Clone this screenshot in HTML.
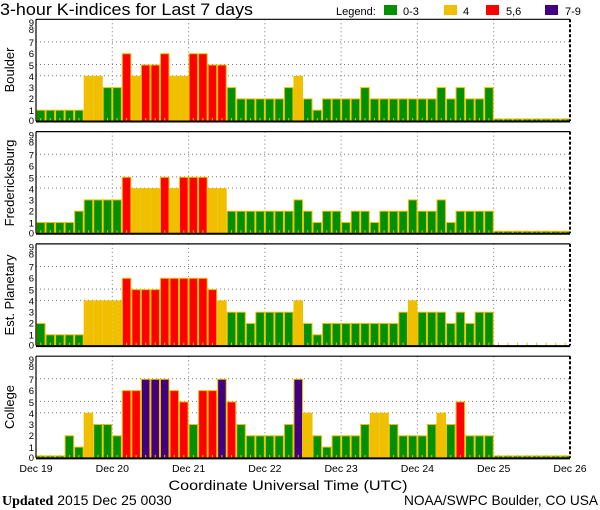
<!DOCTYPE html>
<html><head><meta charset="utf-8"><style>
html,body{margin:0;padding:0;background:#fff;width:600px;height:510px;overflow:hidden}
svg{display:block}
text{font-family:"Liberation Sans",sans-serif;fill:#000}
</style></head><body>
<svg id="s" width="600" height="510" viewBox="0 0 600 510" xmlns="http://www.w3.org/2000/svg">
<text x="0" y="15" font-size="16.5" textLength="253" lengthAdjust="spacingAndGlyphs">3-hour K-indices for Last 7 days</text>
<text x="336" y="15" font-size="11">Legend:</text>
<rect x="384" y="5" width="13" height="10" fill="#009000"/><text x="403" y="15" font-size="11">0-3</text>
<rect x="444" y="5" width="13" height="10" fill="#f0c000"/><text x="463" y="15" font-size="11">4</text>
<rect x="486" y="5" width="13" height="10" fill="#ff0000"/><text x="506" y="15" font-size="11">5,6</text>
<rect x="545" y="5" width="13" height="10" fill="#400080"/><text x="565" y="15" font-size="11">7-9</text>

<g font-size="13">
<text transform="translate(14,70) rotate(-90)" text-anchor="middle">Boulder</text>
<text transform="translate(14,183) rotate(-90)" text-anchor="middle">Fredericksburg</text>
<text transform="translate(14,295) rotate(-90)" text-anchor="middle">Est. Planetary</text>
<text transform="translate(14,407) rotate(-90)" text-anchor="middle">College</text>
</g>

<g font-size="9.5" text-anchor="end">
<g transform="translate(0,0)"><text x="34" y="124">0</text><text x="34" y="114">1</text><text x="34" y="102">2</text><text x="34" y="91">3</text><text x="34" y="80">4</text><text x="34" y="69">5</text><text x="34" y="57">6</text><text x="34" y="46">7</text><text x="34" y="33">8</text><text x="34" y="26">9</text></g>
<g transform="translate(0,112.3)"><text x="34" y="124">0</text><text x="34" y="114">1</text><text x="34" y="102">2</text><text x="34" y="91">3</text><text x="34" y="80">4</text><text x="34" y="69">5</text><text x="34" y="57">6</text><text x="34" y="46">7</text><text x="34" y="33">8</text><text x="34" y="26">9</text></g>
<g transform="translate(0,224.6)"><text x="34" y="124">0</text><text x="34" y="114">1</text><text x="34" y="102">2</text><text x="34" y="91">3</text><text x="34" y="80">4</text><text x="34" y="69">5</text><text x="34" y="57">6</text><text x="34" y="46">7</text><text x="34" y="33">8</text><text x="34" y="26">9</text></g>
<g transform="translate(0,336.9)"><text x="34" y="124">0</text><text x="34" y="114">1</text><text x="34" y="102">2</text><text x="34" y="91">3</text><text x="34" y="80">4</text><text x="34" y="69">5</text><text x="34" y="57">6</text><text x="34" y="46">7</text><text x="34" y="33">8</text><text x="34" y="26">9</text></g>
</g>

<g font-size="10.5" text-anchor="middle">
<text x="36" y="472">Dec 19</text><text x="112.3" y="472">Dec 20</text><text x="188.6" y="472">Dec 21</text><text x="264.9" y="472">Dec 22</text><text x="341.1" y="472">Dec 23</text><text x="417.4" y="472">Dec 24</text><text x="493.7" y="472">Dec 25</text><text x="570" y="472">Dec 26</text>
</g>
<text x="288" y="490" font-size="14" text-anchor="middle" textLength="239" lengthAdjust="spacingAndGlyphs">Coordinate Universal Time (UTC)</text>
<text x="2" y="505" font-size="14"><tspan font-family="Liberation Serif,serif" font-weight="bold">Updated</tspan> 2015 Dec 25 0030</text>
<text x="598" y="505" font-size="14" text-anchor="end" textLength="194" lengthAdjust="spacingAndGlyphs">NOAA/SWPC Boulder, CO USA</text>
<g id="plots"></g>
</svg>
<script>
var data=[
"11111443364556446655322222342122223222222232322300000000",
"11112333354445455544222222232122122122232231222200000000",
"2111144446555666665433233334"+"21222222223433323233"+"xxxxxxxx",
"0002143326677765366753222237"+"42122234432223435222"+"00000000"
];
var sliver=[true,true,false,true];
var tops=[19.3,131.6,243.9,356.2],H=101.7,L=36,R=570,W=(R-L)/56,U=H/9;
var g=document.getElementById('plots'),h='';
function col(v){return v<=3?'#009000':v==4?'#f0c000':v<=6?'#ff0000':'#400080';}
for(var p=0;p<4;p++){
 var t=tops[p],b=t+H;
 [4,5,7].forEach(function(v){var y=b-v*U;h+='<line x1="'+L+'" x2="'+R+'" y1="'+y+'" y2="'+y+'" stroke="#777" stroke-width="1" stroke-dasharray="1,3"/>';});
 for(var d=1;d<7;d++){var x=L+d*8*W;h+='<line x1="'+x+'" x2="'+x+'" y1="'+t+'" y2="'+b+'" stroke="#777" stroke-width="1" stroke-dasharray="1,3"/>';}
 var s=data[p];
 for(var i=0;i<56;i++){
  var c=s[i],x=L+i*W;
  if(c!=='x'){var v=+c;
   if(v>0){h+='<rect x="'+(x+0.5)+'" y="'+(b-v*U+0.5)+'" width="'+(W-1)+'" height="'+(v*U-0.5)+'" fill="'+col(v)+'" stroke="#f0c000" stroke-width="1"/>';}
   else if(sliver[p]){h+='<rect x="'+(x+0.5)+'" y="'+(b-2)+'" width="'+(W-1)+'" height="2" fill="#009000" stroke="#f0c000" stroke-width="1"/>';}
  }
  h+='<rect x="'+(x+W/2-0.5)+'" y="'+(b-3)+'" width="1" height="3" fill="#f0c000"/>';
 }
 h+='<line x1="'+L+'" x2="'+L+'" y1="'+t+'" y2="'+b+'" stroke="#000" stroke-width="1.2"/>';
 h+='<line x1="'+L+'" x2="'+R+'" y1="'+t+'" y2="'+t+'" stroke="#000" stroke-width="1.2"/>';
 h+='<line x1="'+L+'" x2="'+R+'" y1="'+(b+0.5)+'" y2="'+(b+0.5)+'" stroke="#000" stroke-width="2"/>';
 h+='<line x1="'+R+'" x2="'+R+'" y1="'+t+'" y2="'+b+'" stroke="#000" stroke-width="2" stroke-dasharray="3,2"/>';
}
g.innerHTML=h;
</script>
</body></html>
